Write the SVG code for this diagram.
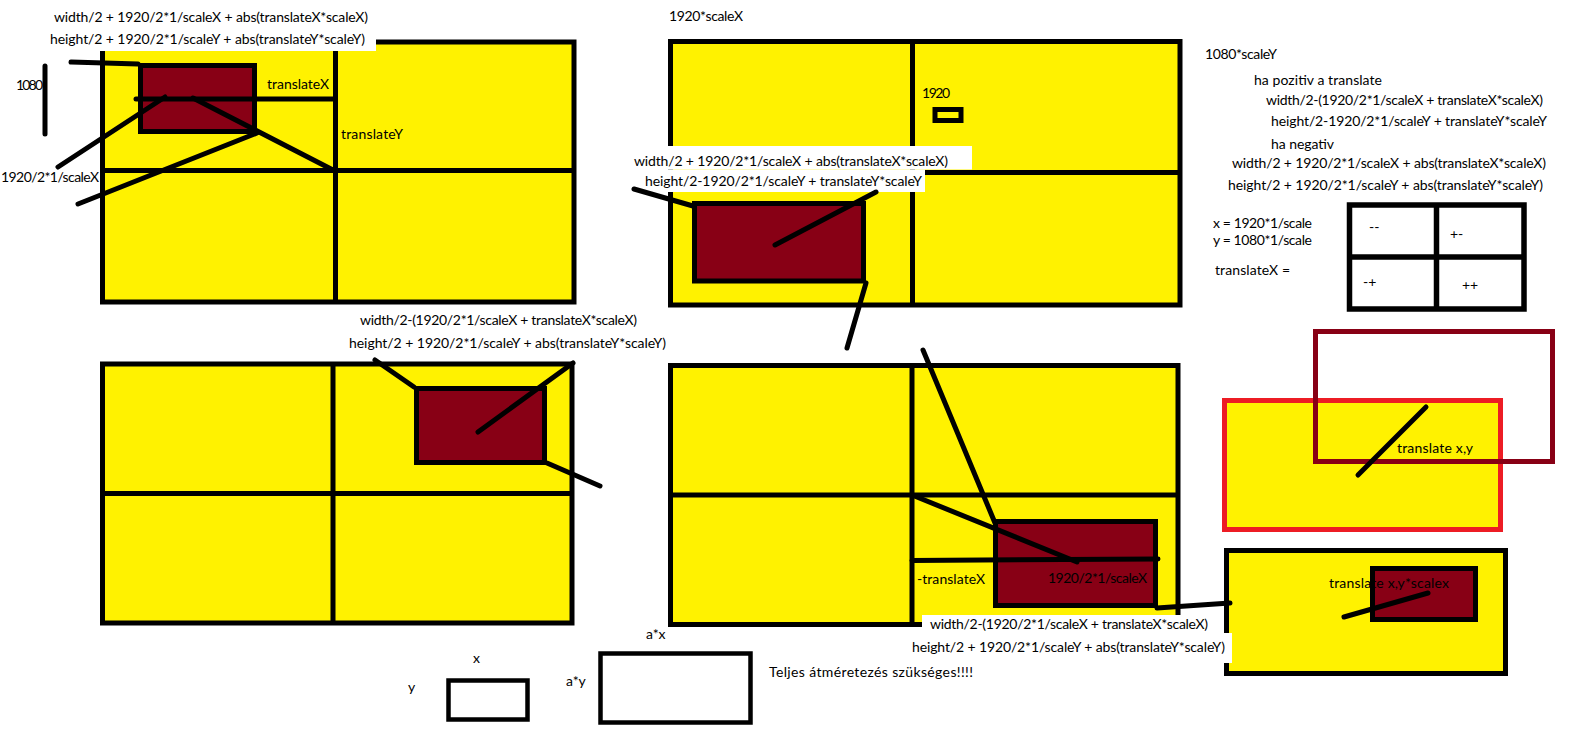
<svg xmlns="http://www.w3.org/2000/svg" width="1594" height="755" viewBox="0 0 1594 755">
<style>
.y{fill:#FFF200;stroke:#000;stroke-width:5}
.dr{fill:#880015;stroke:#000;stroke-width:5}
.d{stroke:#000;stroke-width:5;fill:none}
.k{stroke:#000;stroke-width:5;stroke-linecap:round;fill:none}
.o{fill:none;stroke:#000;stroke-width:4.5}
.w{fill:#fff}
.t{font-family:Lato,"Liberation Sans",sans-serif;font-size:14px;fill:#000}
</style>
<rect width="1594" height="755" fill="#fff"/>

<g id="box1">
<rect class="y" x="102.5" y="42" width="471.5" height="260"/>
<line class="d" x1="335.5" y1="42" x2="335.5" y2="302"/>
<line class="d" x1="102.5" y1="170.5" x2="574" y2="170.5"/>
<rect class="dr" x="140.5" y="65.5" width="114" height="66"/>
</g>

<g id="box2">
<rect class="y" x="670.5" y="41.5" width="509.5" height="263.5"/>
<line class="d" x1="912.5" y1="41.5" x2="912.5" y2="305"/>
<line class="d" x1="670.5" y1="172.5" x2="1180" y2="172.5"/>
<rect class="d" x="935" y="109.5" width="26" height="11"/>
<rect class="dr" x="694.5" y="203.5" width="169" height="77.5"/>
</g>

<g id="box3">
<rect class="y" x="102.5" y="364" width="469.5" height="259"/>
<line class="d" x1="333" y1="364" x2="333" y2="623"/>
<line class="d" x1="102.5" y1="493.5" x2="572" y2="493.5"/>
<rect class="dr" x="416.5" y="388.5" width="128" height="74"/>
</g>

<g id="box4">
<rect class="y" x="670.5" y="365.5" width="507.5" height="259"/>
<line class="d" x1="912" y1="365.5" x2="912" y2="624.5"/>
<line class="d" x1="670.5" y1="495" x2="1178" y2="495"/>
<rect class="dr" x="995.5" y="521.5" width="160" height="84"/>
</g>

<g id="box5">
<rect class="y" x="1226.5" y="550.5" width="279" height="123"/>
<rect class="dr" x="1372.5" y="568.5" width="103" height="51"/>
</g>

<g id="translate-boxes">
<rect x="1224.5" y="400.5" width="276" height="129" fill="#FFF200" stroke="#ED1C24" stroke-width="5"/>
<rect x="1315.5" y="331.5" width="237" height="130" fill="none" stroke="#880015" stroke-width="5"/>
</g>

<g id="grid">
<rect x="1349.5" y="205" width="174.5" height="104" fill="#fff" stroke="#000" stroke-width="5.5"/>
<line x1="1436.5" y1="205" x2="1436.5" y2="309" stroke="#000" stroke-width="5.5"/>
<line x1="1349.5" y1="257" x2="1524" y2="257" stroke="#000" stroke-width="5.5"/>
</g>

<g id="size-boxes">
<rect class="o" x="448.5" y="680.5" width="79" height="39"/>
<rect class="o" x="600.5" y="653.5" width="150" height="69"/>
</g>

<g id="label-backgrounds">
<rect class="w" x="40" y="0" width="336" height="51"/>
<rect class="w" x="625" y="146" width="347" height="23.5"/>
<rect class="w" x="625" y="169.5" width="300" height="22.5"/>
<rect class="w" x="922" y="615" width="293" height="18"/>
<rect class="w" x="907" y="633" width="325" height="30"/>
</g>

<g id="connectors">
<line class="k" x1="71" y1="62" x2="138" y2="64"/>
<line class="k" x1="45" y1="66" x2="45" y2="134"/>
<line class="k" x1="136" y1="99" x2="335" y2="99"/>
<line class="k" x1="58" y1="167" x2="165" y2="97"/>
<line class="k" x1="193" y1="98" x2="333" y2="170"/>
<line class="k" x1="78" y1="204" x2="257" y2="133"/>
<line class="k" x1="634" y1="189" x2="693" y2="206"/>
<line class="k" x1="775" y1="245" x2="876" y2="192"/>
<line class="k" x1="866" y1="283" x2="847" y2="348"/>
<line class="k" x1="375" y1="360" x2="414" y2="387"/>
<line class="k" x1="478" y1="432" x2="573" y2="363"/>
<line class="k" x1="547" y1="463" x2="600" y2="486"/>
<line class="k" x1="923" y1="350" x2="995" y2="523"/>
<line class="k" x1="912" y1="495" x2="1077" y2="562"/>
<line class="k" x1="912" y1="560.5" x2="1158" y2="559"/>
<line class="k" x1="1157" y1="608" x2="1230" y2="603"/>
<line class="k" x1="1344" y1="617" x2="1428" y2="593"/>
<line class="k" x1="1358" y1="475" x2="1426" y2="407"/>
</g>

<g id="labels" class="t">
<text x="54" y="22" textLength="314">width/2 + 1920/2*1/scaleX + abs(translateX*scaleX)</text>
<text x="50" y="44" textLength="315">height/2 + 1920/2*1/scaleY + abs(translateY*scaleY)</text>
<text x="16" y="90" textLength="27">1080</text>
<text x="267" y="89" textLength="62">translateX</text>
<text x="341" y="139" textLength="62">translateY</text>
<text x="1" y="182" textLength="98">1920/2*1/scaleX</text>
<text x="669" y="21" textLength="74">1920*scaleX</text>
<text x="922" y="98" textLength="28">1920</text>
<text x="634" y="166" textLength="314">width/2 + 1920/2*1/scaleX + abs(translateX*scaleX)</text>
<text x="645" y="186" textLength="277">height/2-1920/2*1/scaleY + translateY*scaleY</text>
<text x="360" y="325" textLength="277">width/2-(1920/2*1/scaleX + translateX*scaleX)</text>
<text x="349" y="348" textLength="317">height/2 + 1920/2*1/scaleY + abs(translateY*scaleY)</text>
<text x="917" y="584" textLength="68">-translateX</text>
<text x="1048" y="583" textLength="99">1920/2*1/scaleX</text>
<text x="930" y="629" textLength="278">width/2-(1920/2*1/scaleX + translateX*scaleX)</text>
<text x="912" y="652" textLength="313">height/2 + 1920/2*1/scaleY + abs(translateY*scaleY)</text>
<text x="1205" y="59" textLength="72">1080*scaleY</text>
<text x="1254" y="85" textLength="128">ha pozitiv a translate</text>
<text x="1266" y="105" textLength="277">width/2-(1920/2*1/scaleX + translateX*scaleX)</text>
<text x="1271" y="126" textLength="276">height/2-1920/2*1/scaleY + translateY*scaleY</text>
<text x="1271" y="149" textLength="63">ha negativ</text>
<text x="1232" y="168" textLength="314">width/2 + 1920/2*1/scaleX + abs(translateX*scaleX)</text>
<text x="1228" y="190" textLength="315">height/2 + 1920/2*1/scaleY + abs(translateY*scaleY)</text>
<text x="1213" y="228" textLength="99">x = 1920*1/scale</text>
<text x="1213" y="245" textLength="99">y = 1080*1/scale</text>
<text x="1215" y="275" textLength="75">translateX  =</text>
<text x="1369" y="232">--</text>
<text x="1450" y="239">+-</text>
<text x="1363" y="287">-+</text>
<text x="1462" y="290">++</text>
<text x="1397" y="453" textLength="76">translate x,y</text>
<text x="1329" y="588" textLength="120">translate x,y*scalex</text>
<text x="473" y="663">x</text>
<text x="408" y="692">y</text>
<text x="646" y="639">a*x</text>
<text x="566" y="686">a*y</text>
<text x="769" y="677" textLength="204">Teljes átméretezés szükséges!!!!</text>
</g>
</svg>
